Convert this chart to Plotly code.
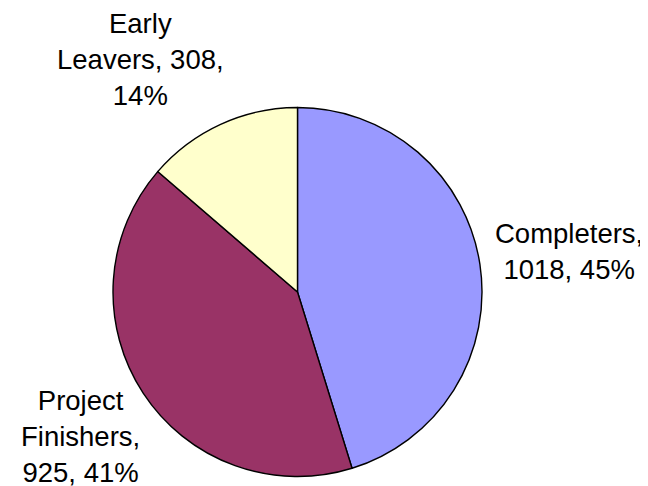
import plotly.graph_objects as go

categories = ["Completers", "Project Finishers", "Early Leavers"]
values = [1018, 925, 308]
label_lines = [["Completers,", "{v}, {p}%"],
               ["Project", "Finishers,", "{v}, {p}%"],
               ["Early", "Leavers, {v},", "{p}%"]]
colors = ["#9999FF", "#993366", "#FFFFCC"]

W, H = 648, 486
# label centers in pixels (layout only)
label_pos = [(561, 243), (72, 428), (132, 52)]

total = sum(values)
fig = go.Figure(go.Pie(
    labels=categories, values=values, sort=False, direction="clockwise",
    rotation=0, textinfo="none", hoverinfo="label+value+percent",
    marker=dict(colors=colors, line=dict(color="black", width=1.4)),
    domain=dict(x=[105 / W, 474 / W], y=[1 - 469 / H, 1 - 99 / H]),
    showlegend=False,
))

anns = []
for cat, v, lines, (px, py) in zip(categories, values, label_lines, label_pos):
    p = round(100 * v / total)
    text = "<br>".join(l.format(v=v, p=p) for l in lines)
    anns.append(dict(x=px / W, y=1 - py / H, xref="paper", yref="paper",
                     text=text, showarrow=False, xanchor="center", yanchor="middle",
                     align="center", borderpad=0,
                     font=dict(family="Liberation Sans, Arial", size=27.5, color="black")))

fig.update_layout(width=W, height=H, margin=dict(l=0, r=0, t=0, b=0),
                  paper_bgcolor="white", plot_bgcolor="white", annotations=anns)
fig.write_html("out.html")
